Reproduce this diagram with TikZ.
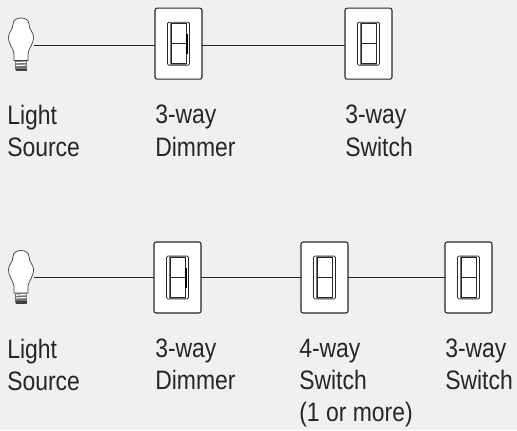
\documentclass[tikz,border=0pt]{standalone}
\usepackage{fontspec}
\setmainfont[FakeStretch=0.86]{Liberation Sans}
\tikzset{
  x=0.75pt,y=-0.75pt,
  plate/.style={draw=black!85,line width=0.8pt,fill=white,rounded corners=1.6pt,minimum width=35.25pt,minimum height=53.25pt,inner sep=0pt,outer sep=0pt},
  wire/.style={draw=black!85,line width=0.65pt},
  lbl/.style={anchor=north west,align=left,font=\fontsize{20}{24.3}\selectfont,inner sep=0pt,text=black!85,execute at begin node={\rule{0pt}{18pt}}},
  thin part/.style={draw=black!85,line width=0.6pt},
  grey part/.style={draw=black!55,line width=0.9pt},
  pics/rocker/.style={code={
    \draw[thin part,rounded corners=1pt,fill=white] (-11,-21.5) rectangle (11,21.5);
    \draw[grey part] (-8,-20.5) rectangle (8,20.5);
    \draw[thin part] (-7.5,-20) rectangle (7.5,20);
    \draw[thin part] (-7.5,0) -- (7.5,0);
  }},
  pics/slider/.style={code={
    \draw[line width=1.3pt,black] (8.8,-10) -- (8.8,10);
  }},
  pics/bulb/.style={code={
    \draw[draw=black!75,fill=white,line width=0.55pt]
      (-3.5,15.5) -- (-7,15.5) -- (-7,9) .. controls (-7,4) and (-12.5,0) .. (-12.5,-8)
      .. controls (-12.5,-13) and (-8,-15) .. (-8,-21)
      .. controls (-8,-25) and (-4,-27) .. (0,-27)
      .. controls (4,-27) and (8,-25) .. (8,-21)
      .. controls (8,-15) and (12.5,-13) .. (12.5,-8)
      .. controls (12.5,0) and (7,4) .. (7,9) -- (7,15.5) -- cycle;
    \fill[black!55] (-6,15.5) rectangle (6,25);
    \fill[white] (-5,17) -- (5,16.5) -- (5,17.8) -- (-5,18.3) -- cycle;
    \fill[white] (-5,20) -- (5,19.5) -- (5,20.6) -- (-5,21.1) -- cycle;
    \fill[black!75] (-5.5,23.5) rectangle (5.5,26);
  }}
}
\begin{document}
\begin{tikzpicture}
\useasboundingbox[fill=black!6] (0,0) rectangle (517,430);

% upper row
\coordinate (b1) at (33.5,45);
\pic at (21,45) {bulb};
\node[plate] (p1) at (178.5,43.7) {};
\node[plate] (p2) at (368.5,43.7) {};
\draw[wire] (b1) -- (b1 -| p1.west);
\draw[wire] (b1 -| p1.east) -- (b1 -| p2.west);
\pic at (178.5,43.7) {rocker};
\pic at (178.5,43.7) {slider};
\pic at (368.5,43.7) {rocker};

\node[lbl] at (7,104.8) (t1) {Light\\Source};
\node[lbl] at (155,104.8) (t2) {3-way\\Dimmer};
\node[lbl] at (345,104.8) (t3) {3-way\\Switch};

% lower row
\coordinate (b2) at (33.5,277.5);
\pic at (21,277.5) {bulb};
\node[plate] (q1) at (177.5,277.5) {};
\node[plate] (q2) at (324.5,277.5) {};
\node[plate] (q3) at (468.5,277.5) {};
\draw[wire] (b2) -- (q1.west);
\draw[wire] (q1.east) -- (q2.west);
\draw[wire] (q2.east) -- (q3.west);
\pic at (177.5,277.5) {rocker};
\pic at (177.5,277.5) {slider};
\pic at (324.5,277.5) {rocker};
\pic at (468.5,277.5) {rocker};

\node[lbl] at (7,338.5) (t4) {Light\\Source};
\node[lbl] at (155,338.5) (t5) {3-way\\Dimmer};
\node[lbl] at (299,338.5) (t6) {4-way\\Switch\\(1 or more)};
\node[lbl] at (445,338.5) (t7) {3-way\\Switch};
\end{tikzpicture}
\end{document}
